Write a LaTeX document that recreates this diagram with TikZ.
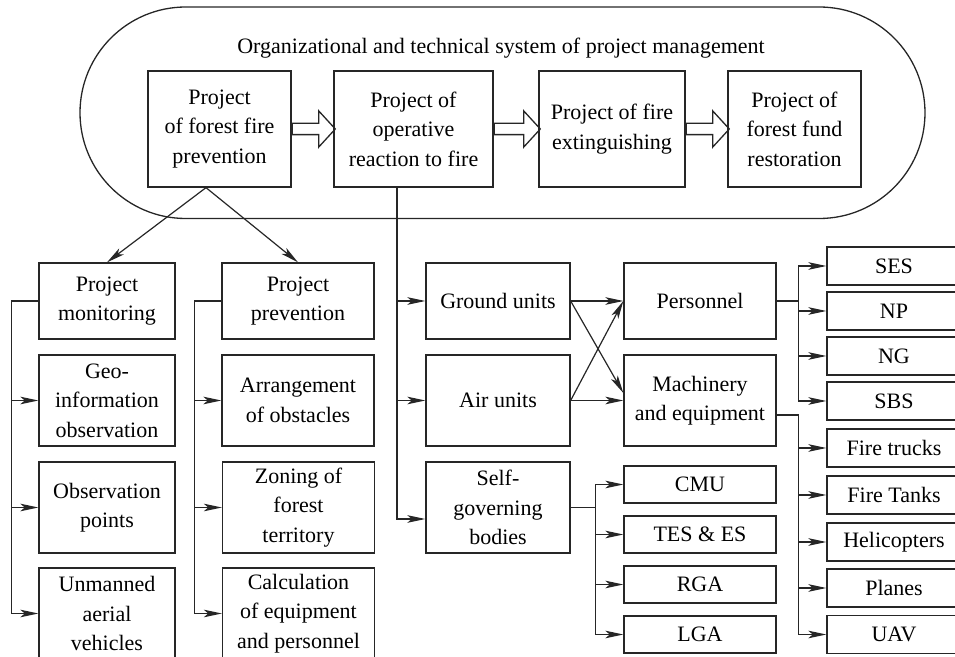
\documentclass[tikz,border=0pt]{standalone}
\usepackage{fontspec}
\setmainfont{Liberation Serif}
\usetikzlibrary{arrows.meta, calc, shapes.arrows, shapes.misc}

\tikzset{
  blk/.style={draw=black!85, line width=0.65pt, align=center, inner sep=0pt, font=\fontsize{11}{14.75}\selectfont},
  lnk/.style={draw=black!85, line width=0.6pt},
  arr/.style={lnk, -{Stealth[length=9pt, width=3.8pt, inset=2.2pt]}},
  fat/.style={single arrow, draw=black!85, line width=0.65pt, anchor=tail, inner sep=2.5pt, single arrow head extend=6.25pt, single arrow tip angle=95, minimum height=#1},
}

\begin{document}
\begin{tikzpicture}[x=0.5pt, y=-0.5pt]
\useasboundingbox (0,0) rectangle (955,657);
\clip (0,0) rectangle (955,657);
% system of project management
\node[rounded rectangle, draw=black!85, line width=0.65pt, minimum width=422.5pt, minimum height=105.75pt, inner sep=0pt] (sys) at (502.5,112.75) {};
\node[font=\fontsize{11}{14.75}\selectfont] (title) at (501,48) {Organizational and technical system of project management};
\node[blk, minimum width=71.5pt, minimum height=58pt] (fireprev) at (219.5,129) {Project\\of forest fire\\prevention};
\node[blk, minimum width=79.5pt, minimum height=58pt] (reaction) at (413.5,129) {Project of\\operative\\reaction to fire};
\node[blk, minimum width=73pt, minimum height=58pt] (extinguish) at (612,129) {Project of fire\\extinguishing};
\node[blk, minimum width=66.5pt, minimum height=58pt] (restore) at (794.5,129) {Project of\\forest fund\\restoration};
\node[fat=21.5pt] (a1) at (fireprev.east) {};
\node[fat=23pt] (a2) at (reaction.east) {};
\node[fat=21.5pt] (a3) at (extinguish.east) {};
% monitoring
\node[blk, minimum width=68pt, minimum height=38pt] (mon) at (107,301) {Project\\monitoring};
\node[blk, minimum width=68pt, minimum height=45.5pt] (geo) at (107,400.5) {Geo-\\information\\observation};
\node[blk, minimum width=68pt, minimum height=45.5pt] (obs) at (107,507.5) {Observation\\points};
\node[blk, minimum width=68pt, minimum height=45.5pt] (unman) at (107,613.5) {Unmanned\\aerial\\vehicles};
% prevention
\node[blk, minimum width=76pt, minimum height=38pt] (prev) at (298,301) {Project\\prevention};
\node[blk, minimum width=76pt, minimum height=45.5pt] (obst) at (298,400.5) {Arrangement\\of obstacles};
\node[blk, minimum width=76pt, minimum height=45.5pt] (zone) at (298.5,507.5) {Zoning of\\forest\\territory};
\node[blk, minimum width=76pt, minimum height=45.5pt] (calcul) at (298.5,613.5) {Calculation\\of equipment\\and personnel};
% operative reaction
\node[blk, minimum width=72pt, minimum height=38pt] (ground) at (498,301) {Ground units};
\node[blk, minimum width=72pt, minimum height=45.5pt] (air) at (498,400.5) {Air units};
\node[blk, minimum width=72pt, minimum height=45.5pt] (self) at (498,507.5) {Self-\\governing\\bodies};
\node[blk, minimum width=76pt, minimum height=38pt] (pers) at (700,301) {Personnel};
\node[blk, minimum width=76pt, minimum height=45.5pt] (mach) at (700,400.5) {Machinery\\and equipment};
\node[blk, minimum width=76pt, minimum height=18.5pt] (cmu) at (700,484.5) {CMU};
\node[blk, minimum width=76pt, minimum height=18.5pt] (tes) at (700,534.5) {TES \& ES};
\node[blk, minimum width=76pt, minimum height=18.5pt] (rga) at (700,584.5) {RGA};
\node[blk, minimum width=76pt, minimum height=18.5pt] (lga) at (700,634.5) {LGA};
\node[blk, minimum width=67pt, minimum height=19pt] (ses) at (894,266) {SES};
\node[blk, minimum width=67pt, minimum height=19pt] (np) at (894,311) {NP};
\node[blk, minimum width=67pt, minimum height=19pt] (ng) at (894,356) {NG};
\node[blk, minimum width=67pt, minimum height=19pt] (sbs) at (894,401) {SBS};
\node[blk, minimum width=67pt, minimum height=19pt] (trucks) at (894,448) {Fire trucks};
\node[blk, minimum width=67pt, minimum height=19pt] (tanks) at (894,495) {Fire Tanks};
\node[blk, minimum width=67pt, minimum height=19pt] (heli) at (894,542) {Helicopters};
\node[blk, minimum width=67pt, minimum height=19pt] (planes) at (894,588) {Planes};
\node[blk, minimum width=67pt, minimum height=19pt] (uav) at (894,634.5) {UAV};
% links
\coordinate (fb) at ($(fireprev.south)+(-13.5,0)$);
\draw[arr] (fb) -- (mon.north);
\draw[arr] (fb) -- (prev.north);
\draw[arr] (mon.west) -- ++(-27,0) coordinate (mc) |- (unman.west);
\draw[arr] (mc |- geo.west) -- (geo.west);
\draw[arr] (mc |- obs.west) -- (obs.west);
\draw[arr] (prev.west) -- ++(-27,0) coordinate (pc) |- (calcul.west);
\draw[arr] (pc |- obst.west) -- (obst.west);
\draw[arr] (pc |- zone.west) -- (zone.west);
\draw[arr] ($(reaction.south)+(-16.5,0)$) coordinate (rc) |- ($(self.west)+(0,11.5)$);
\draw[arr] (rc |- ground.west) -- (ground.west);
\draw[arr] (rc |- air.west) -- (air.west);
\draw[arr] (ground.east) -- (pers.west);
\draw[arr] (ground.east) -- ($(mach.west)+(0,-7.5)$);
\draw[arr] (air.east) -- (pers.west);
\draw[arr] (air.east) -- (mach.west);
\draw[lnk] (pers.east) -- ++(22,0) coordinate (sc);
\draw[arr] (sc) |- (ses.west);
\draw[arr] (sc) |- (sbs.west);
\draw[arr] (sc |- np.west) -- (np.west);
\draw[arr] (sc |- ng.west) -- (ng.west);
\draw[arr] ($(mach.east)+(0,14.5)$) -- ++(22,0) coordinate (ec) |- (uav.west);
\draw[arr] (ec |- trucks.west) -- (trucks.west);
\draw[arr] (ec |- tanks.west) -- (tanks.west);
\draw[arr] (ec |- heli.west) -- (heli.west);
\draw[arr] (ec |- planes.west) -- (planes.west);
\draw[lnk] (self.east) -- ++(25,0) coordinate (gc);
\draw[arr] (gc) |- (cmu.west);
\draw[arr] (gc) |- (lga.west);
\draw[arr] (gc |- tes.west) -- (tes.west);
\draw[arr] (gc |- rga.west) -- (rga.west);
\end{tikzpicture}
\end{document}
